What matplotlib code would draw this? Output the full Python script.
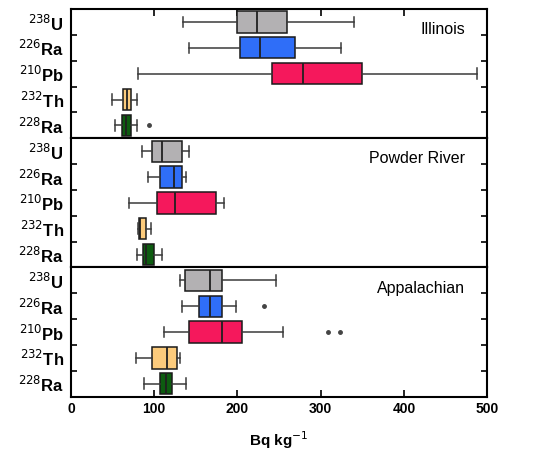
import numpy as np
import matplotlib.pyplot as plt

plt.rcParams['font.family'] = ['Liberation Sans', 'DejaVu Sans']

ISOTOPES = [r"$^{238}$U", r"$^{226}$Ra", r"$^{210}$Pb", r"$^{232}$Th", r"$^{228}$Ra"]
COLORS = ['#b3b1b3', '#2f6ef8', '#f5185c', '#fccb7c', '#0d5c10']
REGIONS = ['Illinois', 'Powder River', 'Appalachian']

# per isotope: whisker low, q1, median, q3, whisker high  (Bq/kg)
ILLINOIS = np.array([
	[135, 200, 223, 260, 340],
	[142, 203, 227, 269, 325],
	[81, 242, 279, 350, 488],
	[49, 63, 67, 72, 80],
	[53, 61, 66, 72, 79],
])
ILLINOIS_FLIERS = [[], [], [], [], [94]]

POWDER = np.array([
	[85, 98, 110, 134, 142],
	[93, 107, 124, 134, 138],
	[70, 103, 125, 174, 184],
	[81, 82, 83, 90, 96],
	[79, 87, 90, 100, 110],
])
POWDER_FLIERS = [[], [], [], [], []]

APPALACHIAN = np.array([
	[131, 137, 167, 181, 246],
	[133, 154, 167, 182, 198],
	[112, 142, 182, 205, 255],
	[78, 98, 115, 128, 131],
	[88, 107, 114, 122, 138],
])
APPALACHIAN_FLIERS = [[], [232], [309, 323], [], []]

DATA = [(ILLINOIS, ILLINOIS_FLIERS), (POWDER, POWDER_FLIERS), (APPALACHIAN, APPALACHIAN_FLIERS)]

fig, axes = plt.subplots(3, 1, sharex=True, figsize=(5.33, 4.57), dpi=100)
fig.subplots_adjust(left=0.133, right=0.914, top=0.980, bottom=0.132, hspace=0)

for ax, region, (vals, fliers) in zip(axes, REGIONS, DATA):
	stats = []
	for row, fl in zip(vals, fliers):
		stats.append(dict(whislo=row[0], q1=row[1], med=row[2], q3=row[3], whishi=row[4], fliers=fl))
	bp = ax.bxp(stats, positions=range(5), vert=False, widths=0.82, patch_artist=True,
		showfliers=True,
		whiskerprops=dict(color='#3a3a3a', lw=1.1),
		capprops=dict(color='#3a3a3a', lw=1.1),
		medianprops=dict(color='#202020', lw=1.3),
		flierprops=dict(marker='o', markersize=2.5, markerfacecolor='#444444', markeredgecolor='#444444'))
	for patch, c in zip(bp['boxes'], COLORS):
		patch.set_facecolor(c)
		patch.set_edgecolor('#1a1a1a')
		patch.set_linewidth(1.1)
	ax.set_ylim(4.5, -0.5)
	ax.set_yticks(range(5))
	ax.set_yticklabels(ISOTOPES, fontsize=12, fontweight='bold')
	ax.set_yticks([0.5, 1.5, 2.5, 3.5], minor=True)
	ax.tick_params(axis='y', which='major', length=0, pad=5)
	ax.tick_params(axis='y', which='minor', direction='in', length=4, width=1.2, left=True, right=True)
	ax.tick_params(axis='x', direction='in', length=5, width=1.2, top=False, bottom=False)
	ax.text(0.947, 0.84, region, transform=ax.transAxes, ha='right', va='center', fontsize=11.5)
	for s in ax.spines.values():
		s.set_linewidth(1.5)

axes[0].tick_params(axis='x', top=True)
axes[-1].tick_params(axis='x', bottom=True, labelsize=10)
axes[-1].set_xlim(0, 500)
axes[-1].set_xticks([0, 100, 200, 300, 400, 500])
for lab in axes[-1].get_xticklabels():
	lab.set_fontweight('bold')
axes[-1].set_xlabel(r"Bq kg$^{-1}$", fontsize=11, fontweight='bold', labelpad=10)

fig.savefig('out.png', dpi=100)
